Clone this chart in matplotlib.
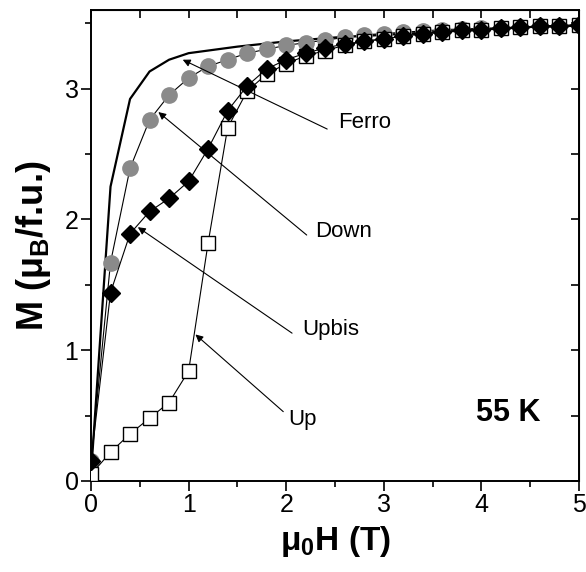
import matplotlib
matplotlib.use("Agg")
import matplotlib.pyplot as plt
from matplotlib.ticker import MultipleLocator
import numpy as np

# ---- data ----
field = [0.0, 0.2, 0.4, 0.6, 0.8, 1.0, 1.2, 1.4, 1.6, 1.8, 2.0, 2.2, 2.4,
         2.6, 2.8, 3.0, 3.2, 3.4, 3.6, 3.8, 4.0, 4.2, 4.4, 4.6, 4.8, 5.0]
m_up = [0.05, 0.22, 0.36, 0.48, 0.60, 0.84, 1.82, 2.70, 2.98, 3.11, 3.19, 3.25, 3.29,
        3.33, 3.36, 3.38, 3.40, 3.42, 3.43, 3.445, 3.45, 3.46, 3.47, 3.475, 3.48, 3.485]
m_upbis = [0.15, 1.44, 1.89, 2.06, 2.16, 2.29, 2.54, 2.83, 3.02, 3.15, 3.22, 3.27, 3.31,
           3.34, 3.36, 3.38, 3.40, 3.42, 3.43, 3.445, 3.45, 3.46, 3.47, 3.475, 3.48, 3.485]
m_down = [0.15, 1.67, 2.39, 2.76, 2.95, 3.08, 3.17, 3.22, 3.27, 3.30, 3.33, 3.35, 3.37,
          3.39, 3.41, 3.42, 3.43, 3.44, 3.45, 3.455, 3.46, 3.465, 3.47, 3.475, 3.48, 3.485]
ferro_h = [0.0, 0.2, 0.4, 0.6, 0.8, 1.0, 1.5, 2.0, 2.5, 3.0, 3.5, 4.0, 4.5, 5.0]
ferro_m = [0.05, 2.25, 2.92, 3.13, 3.22, 3.27, 3.32, 3.36, 3.39, 3.41, 3.43, 3.45, 3.47, 3.48]

labels = ["Ferro", "Down", "Upbis", "Up"]
arrow_tips = [(0.94, 3.22), (0.69, 2.82), (0.48, 1.94), (1.07, 1.12)]
arrow_tails = [(2.42, 2.69), (2.21, 1.88), (2.06, 1.13), (1.97, 0.53)]
label_pos = [(2.53, 2.74), (2.30, 1.905), (2.16, 1.155), (2.02, 0.47)]
temp_label = "55 K"

FONT = ['Liberation Sans', 'DejaVu Sans']
plt.rcParams['font.family'] = FONT
plt.rcParams['mathtext.fontset'] = 'custom'
plt.rcParams['mathtext.rm'] = 'Liberation Sans:bold'
plt.rcParams['mathtext.bf'] = 'Liberation Sans:bold'
plt.rcParams['mathtext.it'] = 'Liberation Sans:bold'

fig = plt.figure(figsize=(5.86, 5.72), dpi=100)
ax = fig.add_axes([91/586, 1-481/572, (579-91)/586, (481-10)/572])

ax.plot(ferro_h, ferro_m, '-', color='black', lw=1.6, zorder=2)
ax.plot(field, m_down, '-', color='black', lw=0.8, marker='o', ms=11,
        mfc='#8a8a8a', mec='#8a8a8a', zorder=3)
ax.plot(field, m_up, '-', color='black', lw=0.8, marker='s', ms=9.5,
        mfc='white', mec='black', mew=1.0, zorder=4)
ax.plot(field, m_upbis, '-', color='black', lw=0.8, marker='D', ms=9.5,
        mfc='black', mec='black', zorder=5)

for lab, tip, tail, pos in zip(labels, arrow_tips, arrow_tails, label_pos):
    ax.annotate('', xy=tip, xytext=tail,
                arrowprops=dict(arrowstyle='-|>', color='black', lw=0.8,
                                mutation_scale=11, shrinkA=0, shrinkB=0), zorder=6)
    ax.text(pos[0], pos[1], lab, fontsize=16, ha='left', va='center', zorder=7)

ax.text(4.28, 0.52, temp_label, fontsize=22, fontweight='bold', ha='center', va='center')

ax.set_xlim(0, 5)
ax.set_ylim(0, 3.6)
ax.xaxis.set_major_locator(MultipleLocator(1))
ax.xaxis.set_minor_locator(MultipleLocator(0.5))
ax.yaxis.set_major_locator(MultipleLocator(1))
ax.yaxis.set_minor_locator(MultipleLocator(0.5))
ax.tick_params(which='major', direction='out', length=7, width=1.2, labelsize=18, pad=2)
ax.tick_params(which='minor', direction='out', length=4, width=1.2)

for s in ax.spines.values():
    s.set_linewidth(1.4)

secx = ax.secondary_xaxis('top')
secx.xaxis.set_major_locator(MultipleLocator(1))
secx.xaxis.set_minor_locator(MultipleLocator(0.5))
secx.tick_params(which='both', direction='in', length=6, width=1.2, labeltop=False)
secy = ax.secondary_yaxis('right')
secy.yaxis.set_major_locator(MultipleLocator(1))
secy.yaxis.set_minor_locator(MultipleLocator(0.5))
secy.tick_params(which='both', direction='in', length=6, width=1.2, labelright=False)

ax.set_xlabel(r'μ$_\mathbf{0}$H (T)', fontsize=24, fontweight='bold', labelpad=5)
ax.set_ylabel(r'M (μ$_\mathbf{B}$/f.u.)', fontsize=26, fontweight='bold', labelpad=8)

fig.savefig('out.png', dpi=100)
